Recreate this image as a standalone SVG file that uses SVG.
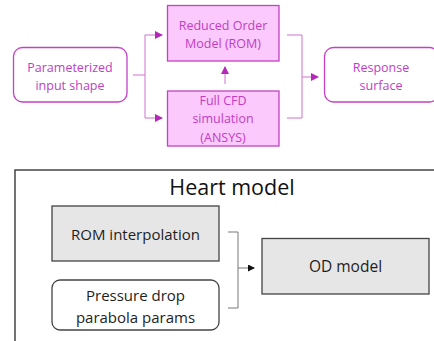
<svg xmlns="http://www.w3.org/2000/svg" width="434" height="341" viewBox="0 0 434 341">
<style>
.pt{font-family:"Open Sans","Liberation Sans",sans-serif;font-size:12.5px;fill:#c03ec6;text-anchor:middle}
.bt{font-family:"Open Sans","Liberation Sans",sans-serif;font-size:15px;fill:#1e1e1e;text-anchor:middle}
.pw{fill:#ffffff;stroke:#c640c6;stroke-width:1.3}
.pf{fill:#fbc9fb;stroke:#c640c6;stroke-width:1.3}
.gf{fill:#e6e6e6;stroke:#444;stroke-width:1.3}
.gw{fill:#ffffff;stroke:#444;stroke-width:1.3}
.pl{fill:none;stroke:#d070d0;stroke-width:1}
.gl{fill:none;stroke:#777;stroke-width:1}
</style>
<defs>
<marker id="pa" markerWidth="8" markerHeight="8" refX="7" refY="4" orient="auto" markerUnits="userSpaceOnUse"><path d="M0,0 L8,4 L0,8 Z" fill="#b428b8"/></marker>
<marker id="ga" markerWidth="7" markerHeight="7" refX="6" refY="3.5" orient="auto" markerUnits="userSpaceOnUse"><path d="M0,0 L7,3.5 L0,7 Z" fill="#111"/></marker>
</defs>
<g id="connectors">
<path class="pl" d="M133,75 H145 M145,35 V118"/>
<path class="pl" d="M145,35 H162" marker-end="url(#pa)"/>
<path class="pl" d="M145,118 H162" marker-end="url(#pa)"/>
<path class="pl" d="M225,84 V67" marker-end="url(#pa)"/>
<path class="pl" d="M287,35 H302 V118 H287"/>
<path class="pl" d="M302,77 H318" marker-end="url(#pa)"/>
<path class="gl" d="M228,232 H238 V308 H228"/>
<path class="gl" d="M238,268 H254" marker-end="url(#ga)"/>
</g>
<g id="param">
<rect class="pw" x="13.5" y="47.5" width="113.5" height="54.5" rx="9"/>
<text class="pt" x="70" y="71.5">Parameterized</text>
<text class="pt" x="70" y="89.5">input shape</text>
</g>
<g id="rom">
<rect class="pf" x="167.5" y="5.5" width="111.5" height="55.5"/>
<text class="pt" x="223" y="29.5">Reduced Order</text>
<text class="pt" x="223" y="47.5">Model (ROM)</text>
</g>
<g id="cfd">
<rect class="pf" x="167.5" y="91" width="111.5" height="55"/>
<text class="pt" x="223" y="104.5">Full CFD</text>
<text class="pt" x="223" y="123">simulation</text>
<text class="pt" x="223" y="141.5">(ANSYS)</text>
</g>
<g id="response">
<rect class="pw" x="324.5" y="47.5" width="114" height="54.5" rx="9"/>
<text class="pt" x="381" y="71.5">Response</text>
<text class="pt" x="381" y="89.5">surface</text>
</g>
<g id="heart">
<path d="M15,341 V170 H434" fill="none" stroke="#444" stroke-width="1.5"/>
<text x="232" y="194.5" style="font-family:'Open Sans','Liberation Sans',sans-serif;font-size:21.5px;fill:#111;text-anchor:middle">Heart model</text>
</g>
<g id="rominterp">
<rect class="gf" x="52" y="206" width="167" height="55"/>
<text class="bt" x="135.5" y="240">ROM interpolation</text>
</g>
<g id="pressure">
<rect class="gw" x="52" y="280" width="167" height="50" rx="8"/>
<text class="bt" x="135.5" y="300.5">Pressure drop</text>
<text class="bt" x="135.5" y="322.5">parabola params</text>
</g>
<g id="od">
<rect class="gf" x="262" y="238.5" width="167" height="55.5"/>
<text class="bt" x="345.5" y="272" style="font-size:15.5px">OD model</text>
</g>
</svg>
